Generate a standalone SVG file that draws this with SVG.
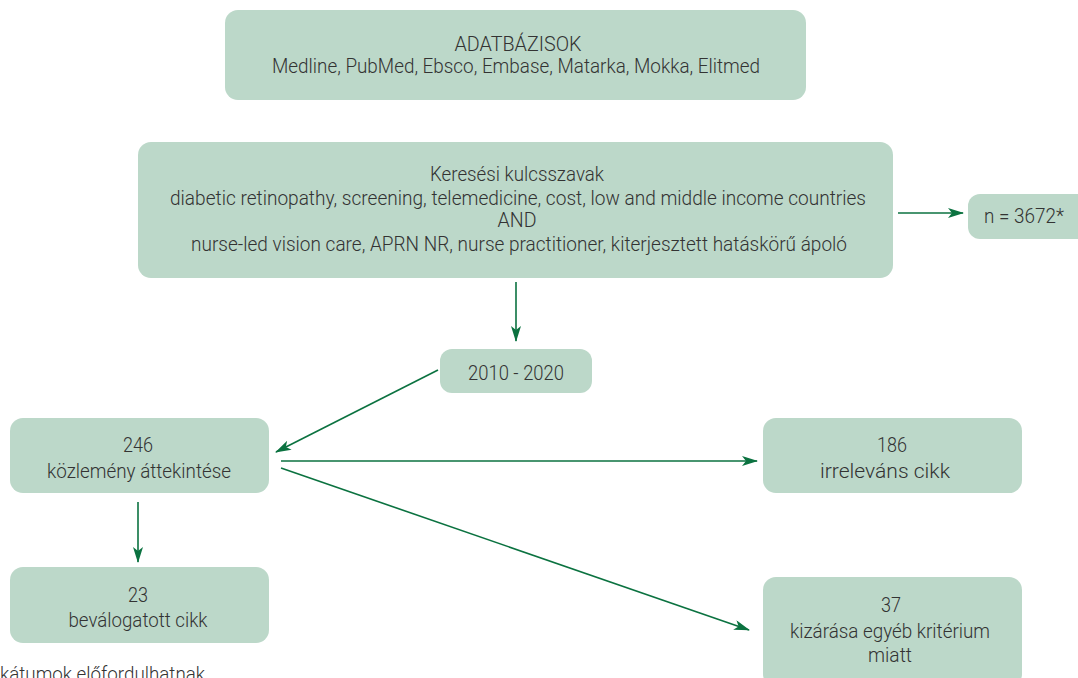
<svg xmlns="http://www.w3.org/2000/svg" width="1078" height="678" viewBox="0 0 1078 678">
<defs>
<style>
.box{fill:#bcd8c9;}
.t{font-family:Roboto,"Liberation Sans",sans-serif;font-weight:300;font-size:20px;fill:#333;text-anchor:middle;}
.c{stroke:#0b7240;stroke-width:1.6;fill:none;marker-end:url(#ah);}
</style>
<marker id="ah" viewBox="0 0 16 10" refX="15" refY="5" markerWidth="16" markerHeight="10" markerUnits="userSpaceOnUse" orient="auto">
<path d="M0,0 L16,5 L0,10 L4,5 Z" fill="#0b7240"/>
</marker>
</defs>
<rect width="1078" height="678" fill="#fff"/>
<g id="connectors">
<line class="c" x1="516" y1="282" x2="516" y2="341"/>
<line class="c" x1="898" y1="213" x2="963" y2="213"/>
<line class="c" x1="438" y1="370" x2="276" y2="452"/>
<line class="c" x1="281" y1="461" x2="757" y2="461"/>
<line class="c" x1="281" y1="468" x2="749" y2="630"/>
<line class="c" x1="138" y1="502" x2="138" y2="562"/>
</g>
<g id="n-adatbazisok">
<rect class="box" x="225" y="10" width="581" height="90" rx="13"/>
<text class="t" x="518" y="51" textLength="127" lengthAdjust="spacingAndGlyphs">ADATBÁZISOK</text>
<text class="t" x="516" y="73" textLength="488" lengthAdjust="spacingAndGlyphs">Medline, PubMed, Ebsco, Embase, Matarka, Mokka, Elitmed</text>
</g>
<g id="n-kulcsszavak">
<rect class="box" x="138" y="142" width="755" height="136" rx="13"/>
<text class="t" x="517" y="181" textLength="174" lengthAdjust="spacingAndGlyphs">Keresési kulcsszavak</text>
<text class="t" x="518" y="205" textLength="696" lengthAdjust="spacingAndGlyphs">diabetic retinopathy, screening, telemedicine, cost, low and middle income countries</text>
<text class="t" x="517" y="227" textLength="39" lengthAdjust="spacingAndGlyphs">AND</text>
<text class="t" x="519" y="251" textLength="656" lengthAdjust="spacingAndGlyphs">nurse-led vision care, APRN NR, nurse practitioner, kiterjesztett hatáskörű ápoló</text>
</g>
<g id="n-3672">
<rect class="box" x="968" y="194" width="124" height="45" rx="12"/>
<text class="t" x="1024" y="223" textLength="80" lengthAdjust="spacingAndGlyphs">n = 3672*</text>
</g>
<g id="n-years">
<rect class="box" x="440" y="349" width="152" height="44" rx="12"/>
<text class="t" x="516" y="380" textLength="96" lengthAdjust="spacingAndGlyphs">2010 - 2020</text>
</g>
<g id="n-246">
<rect class="box" x="10" y="418" width="259" height="75" rx="13"/>
<text class="t" x="138" y="452" textLength="30" lengthAdjust="spacingAndGlyphs">246</text>
<text class="t" x="139" y="478" textLength="184" lengthAdjust="spacingAndGlyphs">közlemény áttekintése</text>
</g>
<g id="n-186">
<rect class="box" x="763" y="418" width="259" height="75" rx="13"/>
<text class="t" x="892" y="452" textLength="30" lengthAdjust="spacingAndGlyphs">186</text>
<text class="t" x="885" y="478" textLength="130" lengthAdjust="spacingAndGlyphs">irreleváns cikk</text>
</g>
<g id="n-23">
<rect class="box" x="10" y="567" width="259" height="76" rx="13"/>
<text class="t" x="138" y="602" textLength="20" lengthAdjust="spacingAndGlyphs">23</text>
<text class="t" x="138" y="627" textLength="139" lengthAdjust="spacingAndGlyphs">beválogatott cikk</text>
</g>
<g id="n-37">
<rect class="box" x="763" y="577" width="259" height="110" rx="13"/>
<text class="t" x="891" y="612" textLength="20" lengthAdjust="spacingAndGlyphs">37</text>
<text class="t" x="890" y="638" textLength="200" lengthAdjust="spacingAndGlyphs">kizárása egyéb kritérium</text>
<text class="t" x="890" y="662" textLength="44" lengthAdjust="spacingAndGlyphs">miatt</text>
</g>
<text class="t" x="0" y="681" style="text-anchor:start" textLength="205" lengthAdjust="spacingAndGlyphs">kátumok előfordulhatnak</text>
</svg>
